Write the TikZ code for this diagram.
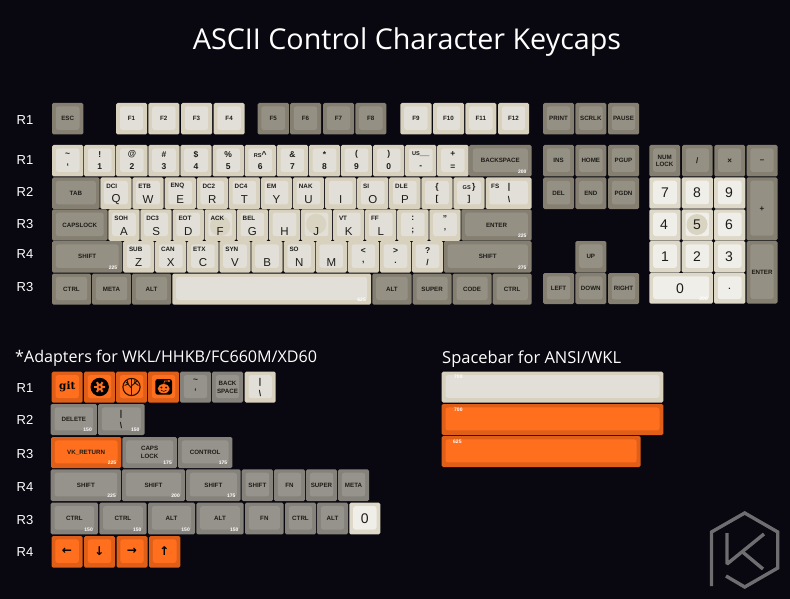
\documentclass[tikz,border=0pt]{standalone}
\usepackage{fontspec}
\setmainfont{Liberation Sans}
\newfontfamily\titlefont{Open Sans}
\newfontfamily\symbolfont{DejaVu Sans}
\newfontfamily\slabfont{DejaVu Serif}

\definecolor{boardbg}{HTML}{09070F}
\definecolor{lightrim}{HTML}{D8D1BD}
\definecolor{lightface}{HTML}{E1DFD7}
\definecolor{whiterim}{HTML}{DDD8C8}
\definecolor{whiteface}{HTML}{EFEEE9}
\definecolor{greyrim}{HTML}{857F72}
\definecolor{greyface}{HTML}{959084}
\definecolor{slaterim}{HTML}{85827B}
\definecolor{slateface}{HTML}{96938C}
\definecolor{orangerim}{HTML}{E05F18}
\definecolor{orangeface}{HTML}{FF6F1E}
\definecolor{dish}{HTML}{D9D4C2}
\definecolor{legendink}{HTML}{1E1C18}
\definecolor{logogrey}{HTML}{6E6E70}

\tikzset{
	rim/.style={rounded corners=1.5pt},
	face/.style={rounded corners=2.5pt},
	capfont/.style={inner sep=0pt, text=legendink, align=center, font=\bfseries\fontsize{6.2}{7.6}\selectfont},
	padfont/.style={inner sep=0pt, text=legendink, font=\fontsize{14}{15}\selectfont},
	bigfont/.style={inner sep=0pt, text=legendink, font=\fontsize{11.5}{12}\selectfont},
	midfont/.style={inner sep=0pt, text=legendink, font=\bfseries\fontsize{8.5}{9}\selectfont},
	arrowfont/.style={inner sep=0pt, text=black, font=\symbolfont\bfseries\fontsize{12}{12}\selectfont},
	ctrlfont/.style={inner sep=0pt, anchor=west, text=legendink, font=\bfseries\fontsize{6.3}{7}\selectfont},
	sizefont/.style={inner sep=0pt, anchor=south east, text=white, font=\bfseries\fontsize{5}{6}\selectfont},
	rowfont/.style={inner sep=0pt, text=white, font=\fontsize{13}{14}\selectfont},
	headfont/.style={inner sep=0pt, anchor=base west, text=white, font=\titlefont\fontsize{16.1}{18}\selectfont},
	logoline/.style={draw=logogrey, line width=3.4pt, line join=miter}
}

% name, tone, left, top, right, bottom, legend
\newcommand{\keycap}[7]{%
	\fill[#2rim, rim] (#3,#4) rectangle (#5,#6);
	\fill[#2face, face] (#3+3.8,#4+3.4) rectangle (#5-3.8,#6-4.6);
	\node (#1) [capfont] at ({(#3+#5)/2},{(#4+#6)/2}) {#7};
}
% name, left, top, control code, letter
\newcommand{\alphacap}[5]{%
	\keycap{#1}{light}{#2}{#3}{#2+31.3}{#3+31.5}{}
	\node (#1Code) [ctrlfont] at (#2+5.8,#3+8.7) {#4};
	\node (#1Main) [bigfont] at (#2+15.7,#3+22) {#5};
}
% name, left, top, upper, lower
\newcommand{\digitcap}[5]{%
	\keycap{#1}{light}{#2}{#3}{#2+31.3}{#3+31.5}{}
	\node (#1Up) [midfont] at (#2+15.7,#3+9.5) {#4};
	\node (#1Low) [midfont] at (#2+15.7,#3+22) {#5};
}
% name, right, bottom, text
\newcommand{\sizetag}[4]{\node (#1) [sizefont] at (#2-5,#3-3) {#4};}

\begin{document}
\begin{tikzpicture}[x=1pt, y=-1pt]
	\fill[boardbg] (0,0) rectangle (790,599);
	\useasboundingbox (0,0) rectangle (790,599);

	\node (Title) [inner sep=0pt, text=white, font=\titlefont\fontsize{28.7}{32}\selectfont] at (407,42) {ASCII Control Character Keycaps};

	% row labels
	\node (RowA) [rowfont] at (25,120) {R1};
	\node (RowB) [rowfont] at (25,160) {R1};
	\node (RowC) [rowfont] at (25,192) {R2};
	\node (RowD) [rowfont] at (25,224) {R3};
	\node (RowE) [rowfont] at (25,254) {R4};
	\node (RowF) [rowfont] at (25,287) {R3};

	% function row
	\keycap{Esc}{grey}{52}{103}{83.3}{134.5}{ESC}
	\keycap{FOne}{light}{116}{103}{147}{134.5}{F1}
	\keycap{FTwo}{light}{148.3}{103}{179.3}{134.5}{F2}
	\keycap{FThree}{light}{181}{103}{212}{134.5}{F3}
	\keycap{FFour}{light}{213.5}{103}{244.7}{134.5}{F4}
	\keycap{FFive}{grey}{257.5}{103}{289}{134.5}{F5}
	\keycap{FSix}{grey}{290}{103}{321}{134.5}{F6}
	\keycap{FSeven}{grey}{323}{103}{354}{134.5}{F7}
	\keycap{FEight}{grey}{355.3}{103}{386.3}{134.5}{F8}
	\keycap{FNine}{light}{400.3}{103}{431.5}{134.5}{F9}
	\keycap{FTen}{light}{433}{103}{464}{134.5}{F10}
	\keycap{FEleven}{light}{465.3}{103}{496.3}{134.5}{F11}
	\keycap{FTwelve}{light}{498}{103}{529}{134.5}{F12}
	\keycap{Print}{grey}{543}{103}{574}{134.5}{PRINT}
	\keycap{Scrlk}{grey}{575.3}{103}{606.3}{134.5}{SCRLK}
	\keycap{Pause}{grey}{608}{103}{639}{134.5}{PAUSE}

	% number row
	\digitcap{Grave}{52}{145}{\textasciitilde}{`}
	\digitcap{One}{84.1}{145}{!}{1}
	\digitcap{Two}{116.2}{145}{@}{2}
	\digitcap{Three}{148.3}{145}{\#}{3}
	\digitcap{Four}{180.4}{145}{\$}{4}
	\digitcap{Five}{212.5}{145}{\%}{5}
	\digitcap{Six}{244.6}{145}{\fontsize{5.6}{6}\selectfont RS\fontsize{8.5}{9}\selectfont\textasciicircum}{6}
	\digitcap{Seven}{276.7}{145}{\&}{7}
	\digitcap{Eight}{308.8}{145}{*}{8}
	\digitcap{Nine}{340.9}{145}{(}{9}
	\digitcap{Zero}{373}{145}{)}{0}
	\digitcap{Minus}{405.1}{145}{\fontsize{5.6}{6}\selectfont US\fontsize{8.5}{9}\selectfont\_\_}{-}
	\digitcap{Equal}{437.2}{145}{+}{=}
	\keycap{Backspace}{grey}{469}{145}{531.7}{176.5}{BACKSPACE}
	\sizetag{BackspaceSize}{531.7}{176.5}{200}

	% qwerty row
	\keycap{Tab}{grey}{52}{177.5}{99.7}{209}{TAB}
	\alphacap{Q}{100.3}{177.5}{DCI}{Q}
	\alphacap{W}{132.4}{177.5}{ETB}{W}
	\alphacap{E}{164.5}{177.5}{ENQ}{E}
	\alphacap{R}{196.6}{177.5}{DC2}{R}
	\alphacap{T}{228.7}{177.5}{DC4}{T}
	\alphacap{Y}{260.8}{177.5}{EM}{Y}
	\alphacap{U}{292.9}{177.5}{NAK}{U}
	\alphacap{I}{325}{177.5}{}{I}
	\alphacap{O}{357.1}{177.5}{SI}{O}
	\alphacap{P}{389.2}{177.5}{DLE}{P}
	\digitcap{Open}{421.3}{177.5}{\{}{[}
	\digitcap{Close}{453.4}{177.5}{\fontsize{5.6}{6}\selectfont GS\fontsize{8.5}{9}\selectfont\,\}}{]}
	\keycap{Pipe}{light}{485.5}{177.5}{531.7}{209}{}
	\node (PipeCode) [ctrlfont] at (491,186.5) {FS};
	\node (PipeUp) [midfont] at (509,187) {|};
	\node (PipeLow) [midfont] at (509,200) {\textbackslash};

	% home row
	\keycap{Caps}{grey}{52}{209.3}{107.5}{240.7}{CAPSLOCK}
	\alphacap{A}{108.3}{209.3}{SOH}{A}
	\alphacap{S}{140.4}{209.3}{DC3}{S}
	\alphacap{D}{172.5}{209.3}{EOT}{D}
	\alphacap{F}{204.6}{209.3}{}{}
	\fill[dish] (220.2,226) circle (10.2);
	\node (FCode) [ctrlfont] at (210.3,218) {ACK};
	\node (FMain) [bigfont] at (220.2,231.5) {F};
	\alphacap{G}{236.7}{209.3}{BEL}{G}
	\alphacap{H}{268.8}{209.3}{}{H}
	\alphacap{J}{300.9}{209.3}{}{}
	\fill[dish] (316.2,224) circle (10.2);
	\node (JMain) [bigfont] at (316.2,231.5) {J};
	\alphacap{K}{333}{209.3}{VT}{K}
	\alphacap{L}{365.1}{209.3}{FF}{L}
	\digitcap{Semi}{397.2}{209.3}{:}{;}
	\digitcap{Quote}{429.3}{209.3}{"}{'}
	\keycap{Enter}{grey}{461.4}{209.3}{531.7}{240.7}{ENTER}
	\sizetag{EnterSize}{531.7}{240.7}{225}

	% shift row
	\keycap{ShiftL}{grey}{52}{241}{122.3}{272.5}{SHIFT}
	\sizetag{ShiftLSize}{122.3}{272.5}{225}
	\alphacap{Z}{123}{241}{SUB}{Z}
	\alphacap{X}{155.1}{241}{CAN}{X}
	\alphacap{C}{187.2}{241}{ETX}{C}
	\alphacap{V}{219.3}{241}{SYN}{V}
	\alphacap{B}{251.4}{241}{}{B}
	\alphacap{N}{283.5}{241}{SO}{N}
	\alphacap{M}{315.6}{241}{}{M}
	\digitcap{Comma}{347.7}{241}{<}{,}
	\digitcap{Dot}{379.8}{241}{>}{.}
	\digitcap{Slash}{411.9}{241}{?}{/}
	\keycap{ShiftR}{grey}{443.8}{241}{531.7}{272.5}{SHIFT}
	\sizetag{ShiftRSize}{531.7}{272.5}{275}

	% bottom row
	\keycap{CtrlL}{grey}{52}{273.5}{91}{304.7}{CTRL}
	\keycap{MetaL}{grey}{92}{273.5}{131}{304.7}{META}
	\keycap{AltL}{grey}{132}{273.5}{171}{304.7}{ALT}
	\keycap{Space}{light}{172.3}{273.5}{371}{304.7}{}
	\sizetag{SpaceSize}{371}{304.7}{625}
	\keycap{AltR}{grey}{372.3}{273.5}{411.5}{304.7}{ALT}
	\keycap{Super}{grey}{412.7}{273.5}{451.5}{304.7}{SUPER}
	\keycap{Code}{grey}{452.7}{273.5}{491.5}{304.7}{CODE}
	\keycap{CtrlR}{grey}{492.7}{273.5}{531.7}{304.7}{CTRL}

	% navigation cluster
	\keycap{Ins}{grey}{543}{145}{574}{176.5}{INS}
	\keycap{Home}{grey}{575.3}{145}{606.3}{176.5}{HOME}
	\keycap{PgUp}{grey}{608}{145}{639}{176.5}{PGUP}
	\keycap{Del}{grey}{543}{177.5}{574}{209}{DEL}
	\keycap{End}{grey}{575.3}{177.5}{606.3}{209}{END}
	\keycap{PgDn}{grey}{608}{177.5}{639}{209}{PGDN}
	\keycap{Up}{grey}{575.3}{241}{606.3}{272.5}{UP}
	\keycap{Left}{grey}{543}{273}{574}{304}{LEFT}
	\keycap{Down}{grey}{575.3}{273}{606.3}{304}{DOWN}
	\keycap{Right}{grey}{608}{273}{639}{304}{RIGHT}

	% numpad
	\keycap{NumLock}{grey}{649.3}{145}{680}{176.5}{NUM\\LOCK}
	\keycap{PadDiv}{grey}{682}{145}{712.7}{176.5}{\fontsize{8}{9}\selectfont /}
	\keycap{PadMul}{grey}{714.3}{145}{745}{176.5}{\fontsize{8}{9}\selectfont ×}
	\keycap{PadSub}{grey}{746.5}{145}{777.5}{176.5}{\fontsize{8}{9}\selectfont –}
	\keycap{PadAdd}{grey}{746.5}{177.3}{777.5}{240.3}{\fontsize{8}{9}\selectfont +}
	\keycap{PadEnter}{grey}{746.5}{241}{777.5}{303.5}{ENTER}
	\keycap{PadSeven}{white}{649.3}{177.3}{680.7}{208.7}{}
	\node (PadSevenMain) [padfont] at (665,193) {7};
	\keycap{PadEight}{white}{681.7}{177.3}{713}{208.7}{}
	\node (PadEightMain) [padfont] at (697,193) {8};
	\keycap{PadNine}{white}{714}{177.3}{745.3}{208.7}{}
	\node (PadNineMain) [padfont] at (729,193) {9};
	\keycap{PadFour}{white}{649.3}{209.3}{680.7}{240.7}{}
	\node (PadFourMain) [padfont] at (664,225) {4};
	\keycap{PadFive}{white}{681.7}{209.3}{713}{240.7}{}
	\fill[dish] (697,224.5) circle (10.5);
	\node (PadFiveMain) [padfont] at (697,225) {5};
	\keycap{PadSix}{white}{714}{209.3}{745.3}{240.7}{}
	\node (PadSixMain) [padfont] at (729,225) {6};
	\keycap{PadOne}{white}{649.3}{241}{680.7}{272.5}{}
	\node (PadOneMain) [padfont] at (665,257) {1};
	\keycap{PadTwo}{white}{681.7}{241}{713}{272.5}{}
	\node (PadTwoMain) [padfont] at (697,257) {2};
	\keycap{PadThree}{white}{714}{241}{745.3}{272.5}{}
	\node (PadThreeMain) [padfont] at (729,257) {3};
	\keycap{PadZero}{white}{649.3}{273}{713}{303.7}{}
	\node (PadZeroMain) [padfont] at (680,289) {0};
	\sizetag{PadZeroSize}{713}{303.7}{200}
	\keycap{PadDot}{white}{714}{273}{745.3}{303.7}{}
	\node (PadDotMain) [midfont] at (729.5,289) {.};

	% adapters
	\node (AdaptHead) [headfont] at (15,362) {*Adapters for WKL/HHKB/FC660M/XD60};
	\node (SpaceHead) [headfont, font=\titlefont\fontsize{16.5}{18}\selectfont] at (442,363) {Spacebar for ANSI/WKL};
	\node (AdaptA) [rowfont] at (25,388) {R1};
	\node (AdaptB) [rowfont] at (25,420) {R2};
	\node (AdaptC) [rowfont] at (25,454) {R3};
	\node (AdaptD) [rowfont] at (25,487) {R4};
	\node (AdaptE) [rowfont] at (25,520) {R3};
	\node (AdaptF) [rowfont] at (25,552) {R4};

	\keycap{Git}{orange}{51.7}{371.7}{82.7}{402.7}{}
	\node (GitMark) [inner sep=0pt, text=black, font=\slabfont\bfseries\fontsize{10.5}{12}\selectfont] at (67.3,386.5) {git};

	\keycap{Gear}{orange}{84}{371.7}{115}{402.7}{}
	\fill[black] (99.7,387) circle (9.2);
	\fill[orangeface] (99.7,387) circle (3.4);
	\foreach \a in {0,60,...,300}
		\draw[orangeface, line width=2pt] (99.7,387) -- +(\a:5.6);
	\fill[black] (99.7,387) circle (1.3);

	\keycap{Tree}{orange}{116}{371.7}{147}{402.7}{}
	\draw[black!85!orange, line width=1.1pt] (131.5,387) circle (8.6);
	\draw[black!85!orange, line width=1.6pt] (131.5,395) -- (131.5,383);
	\draw[black!85!orange, line width=.9pt] (131.5,388) -- (126,382) (131.5,386) -- (137,381) (131.5,383) -- (131.5,379) (128,384) -- (124.5,385.5) (135,383) -- (138.5,385.5) (128.5,384.5) -- (127,380) (134.5,384) -- (135,379.5);

	\keycap{Alien}{orange}{148}{371.7}{179}{402.7}{}
	\fill[black, rounded corners=2.5pt] (155.3,379) rectangle (172,394.7);
	\fill[orangeface] (163.7,388.7) ellipse (6 and 4.6);
	\fill[orangeface] (169,381) circle (1.2);
	\draw[orangeface, line width=.6pt] (163.7,384.5) -- (164.5,381) -- (169,381);
	\fill[black] (161.3,387.5) circle (1) (166.1,387.5) circle (1);
	\draw[black, line width=.5pt] (161,390.3) .. controls (162.5,391.7) and (165,391.7) .. (166.4,390.3);

	\keycap{AdGrave}{slate}{180}{371.7}{211}{402.7}{}
	\node (AdGraveUp) [midfont] at (195.5,381) {\textasciitilde};
	\node (AdGraveLow) [midfont] at (195.5,392) {`};
	\keycap{AdBack}{slate}{212}{371.7}{243}{402.7}{BACK\\SPACE}
	\keycap{AdPipe}{light}{244.7}{371.7}{275.7}{402.7}{}
	\node (AdPipeUp) [midfont] at (260,382) {|};
	\node (AdPipeLow) [midfont] at (260,394) {\textbackslash};

	\keycap{AdDelete}{slate}{50.7}{404}{97}{435}{DELETE}
	\sizetag{AdDeleteSize}{97}{435}{150}
	\keycap{AdSlash}{slate}{98}{404}{144.7}{435}{}
	\node (AdSlashUp) [midfont] at (121,414) {|};
	\node (AdSlashLow) [midfont] at (121,426) {\textbackslash};
	\sizetag{AdSlashSize}{144.7}{435}{150}

	\keycap{VkReturn}{orange}{51}{437}{121.3}{468}{VK\_RETURN}
	\sizetag{VkReturnSize}{121.3}{468}{225}
	\keycap{AdCaps}{slate}{122.3}{437}{177}{468}{CAPS\\LOCK}
	\sizetag{AdCapsSize}{177}{468}{175}
	\keycap{AdControl}{slate}{178}{437}{232.3}{468}{CONTROL}
	\sizetag{AdControlSize}{232.3}{468}{175}

	\keycap{AdShiftA}{slate}{50.7}{469.3}{121}{501}{SHIFT}
	\sizetag{AdShiftASize}{121}{501}{225}
	\keycap{AdShiftB}{slate}{122}{469.3}{185}{501}{SHIFT}
	\sizetag{AdShiftBSize}{185}{501}{200}
	\keycap{AdShiftC}{slate}{186}{469.3}{240.7}{501}{SHIFT}
	\sizetag{AdShiftCSize}{240.7}{501}{175}
	\keycap{AdShiftD}{slate}{241.7}{469.3}{273}{501}{SHIFT}
	\keycap{AdFnA}{slate}{274}{469.3}{305}{501}{FN}
	\keycap{AdSuper}{slate}{306}{469.3}{337}{501}{SUPER}
	\keycap{AdMeta}{slate}{338}{469.3}{369}{501}{META}

	\keycap{AdCtrlA}{slate}{50.7}{502.7}{98}{534.3}{CTRL}
	\sizetag{AdCtrlASize}{98}{534.3}{150}
	\keycap{AdCtrlB}{slate}{99.3}{502.7}{146.7}{534.3}{CTRL}
	\sizetag{AdCtrlBSize}{146.7}{534.3}{150}
	\keycap{AdAltA}{slate}{148}{502.7}{195}{534.3}{ALT}
	\sizetag{AdAltASize}{195}{534.3}{150}
	\keycap{AdAltB}{slate}{196.3}{502.7}{243.7}{534.3}{ALT}
	\sizetag{AdAltBSize}{243.7}{534.3}{150}
	\keycap{AdFnB}{slate}{245}{502.7}{283.7}{534.3}{FN}
	\keycap{AdCtrlC}{slate}{285}{502.7}{316}{534.3}{CTRL}
	\keycap{AdAltC}{slate}{317}{502.7}{348}{534.3}{ALT}
	\keycap{AdZero}{white}{349.3}{502.7}{380.3}{534.3}{}
	\node (AdZeroMain) [padfont] at (364.8,518.5) {0};

	\keycap{ArrowLeft}{orange}{51.5}{536}{82.7}{567.5}{}
	\node (ArrowLeftMain) [arrowfont] at (67,551) {←};
	\keycap{ArrowDown}{orange}{84}{536}{115}{567.5}{}
	\node (ArrowDownMain) [arrowfont] at (99.5,551) {↓};
	\keycap{ArrowRight}{orange}{116.5}{536}{147.5}{567.5}{}
	\node (ArrowRightMain) [arrowfont] at (132,551) {→};
	\keycap{ArrowUp}{orange}{149}{536}{180.3}{567.5}{}
	\node (ArrowUpMain) [arrowfont] at (164.5,551) {↑};

	% spacebars
	\keycap{BarLight}{light}{441.7}{371.7}{663.3}{402.5}{}
	\keycap{BarOrangeA}{orange}{441.7}{404}{663.3}{435}{}
	\keycap{BarOrangeB}{orange}{441.7}{436}{640.5}{467}{}
	\node (BarLightSize) [sizefont, anchor=west] at (454,377) {700};
	\node (BarOrangeASize) [sizefont, anchor=west] at (454,409.3) {700};
	\node (BarOrangeBSize) [sizefont, anchor=west] at (453,442) {625};

	% logo
	\draw[logoline] (711.5,586) -- (711.5,532) -- (744.7,513) -- (777.7,532) -- (777.7,568) -- (744.7,587) -- (726,576);
	\draw[logoline, line join=bevel] (727,533) -- (727,564) -- (764,534);
	\draw[logoline] (742,551.5) -- (763,569);
\end{tikzpicture}
\end{document}
